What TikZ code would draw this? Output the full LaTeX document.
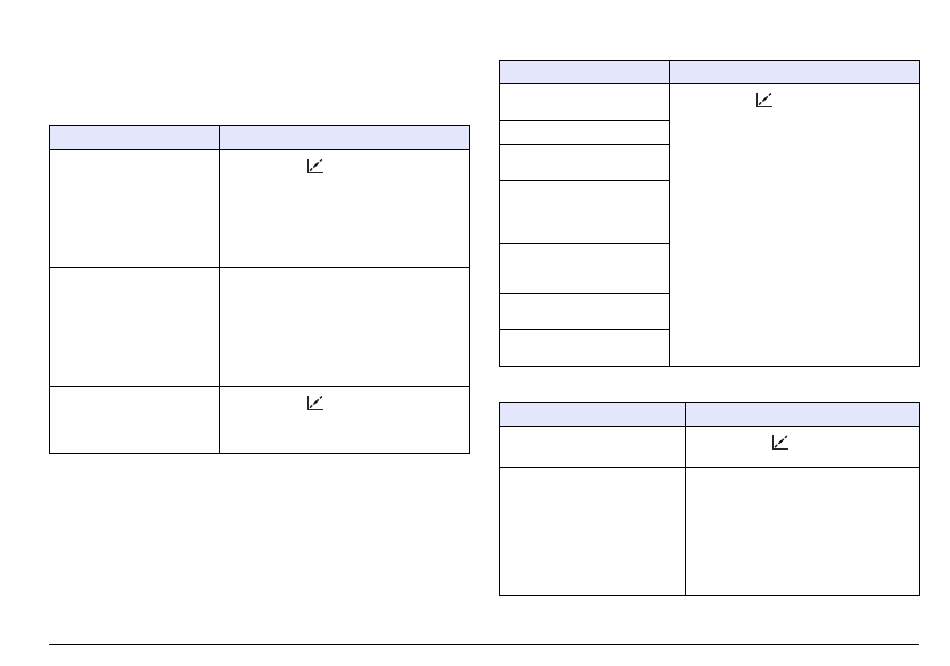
\documentclass[tikz,border=0pt]{standalone}
\usepackage{xcolor}
\usetikzlibrary{positioning}
\definecolor{headblue}{HTML}{E4E6FB}

\begin{document}
\begin{tikzpicture}[
x=1pt, y=-1pt,
box/.style={rectangle, draw=black, fill=white, line width=1pt, inner sep=0pt, outer sep=0pt, anchor=north west},
head/.style={box, fill=headblue},
chart icon/.pic={
\draw[line width=1.6pt, black!85] (0.8,0) -- (0.8,14) -- (15.5,14);
\draw[line width=1.4pt, black!85, dash pattern=on 3pt off 1.5pt] (3,12) -- (15,1);
\fill[black] (9,6.5) circle (1.8pt);
}
]
\useasboundingbox (0,0) rectangle (950,665);

% left table
\node[head, minimum width=169.5pt, minimum height=24.5pt](left_head_a) at (49.5,125){};
\node[head, minimum width=250.5pt, minimum height=24.5pt, right=0pt of left_head_a.north east, anchor=north west](left_head_b){};
\node[box, minimum width=169.5pt, minimum height=117.5pt, below=0pt of left_head_a.south west, anchor=north west](left_one_a){};
\node[box, minimum width=250.5pt, minimum height=117.5pt, below=0pt of left_head_b.south west, anchor=north west](left_one_b){};
\node[box, minimum width=169.5pt, minimum height=119pt, below=0pt of left_one_a.south west, anchor=north west](left_two_a){};
\node[box, minimum width=250.5pt, minimum height=119pt, below=0pt of left_one_b.south west, anchor=north west](left_two_b){};
\node[box, minimum width=169.5pt, minimum height=67.5pt, below=0pt of left_two_a.south west, anchor=north west](left_three_a){};
\node[box, minimum width=250.5pt, minimum height=67.5pt, below=0pt of left_two_b.south west, anchor=north west](left_three_b){};

% upper right table
\node[head, minimum width=170.5pt, minimum height=23.5pt](top_head_a) at (499,60){};
\node[head, minimum width=250pt, minimum height=23.5pt, right=0pt of top_head_a.north east, anchor=north west](top_head_b){};
\node[box, minimum width=170.5pt, minimum height=37pt, below=0pt of top_head_a.south west, anchor=north west](top_one_a){};
\node[box, minimum width=170.5pt, minimum height=24pt, below=0pt of top_one_a.south west, anchor=north west](top_two_a){};
\node[box, minimum width=170.5pt, minimum height=36pt, below=0pt of top_two_a.south west, anchor=north west](top_three_a){};
\node[box, minimum width=170.5pt, minimum height=63pt, below=0pt of top_three_a.south west, anchor=north west](top_four_a){};
\node[box, minimum width=170.5pt, minimum height=50pt, below=0pt of top_four_a.south west, anchor=north west](top_five_a){};
\node[box, minimum width=170.5pt, minimum height=36pt, below=0pt of top_five_a.south west, anchor=north west](top_six_a){};
\node[box, minimum width=170.5pt, minimum height=37pt, below=0pt of top_six_a.south west, anchor=north west](top_seven_a){};
\node[box, minimum width=250pt, minimum height=283pt, below=0pt of top_head_b.south west, anchor=north west](top_all_b){};

% lower right table
\node[head, minimum width=186.5pt, minimum height=24pt](low_head_a) at (499,402.5){};
\node[head, minimum width=234pt, minimum height=24pt, right=0pt of low_head_a.north east, anchor=north west](low_head_b){};
\node[box, minimum width=186.5pt, minimum height=41pt, below=0pt of low_head_a.south west, anchor=north west](low_one_a){};
\node[box, minimum width=234pt, minimum height=41pt, below=0pt of low_head_b.south west, anchor=north west](low_one_b){};
\node[box, minimum width=186.5pt, minimum height=128pt, below=0pt of low_one_a.south west, anchor=north west](low_two_a){};
\node[box, minimum width=234pt, minimum height=128pt, below=0pt of low_one_b.south west, anchor=north west](low_two_b){};

% icons
\pic at (307,158.5) {chart icon};
\pic at (307,395.5) {chart icon};
\pic at (756,92.5) {chart icon};
\pic at (772,435) {chart icon};

% footer rule
\coordinate (rule_start) at (49,644.5);
\coordinate (rule_end) at (919,644.5);
\draw[line width=1pt] (rule_start) -- (rule_end);

\end{tikzpicture}
\end{document}
